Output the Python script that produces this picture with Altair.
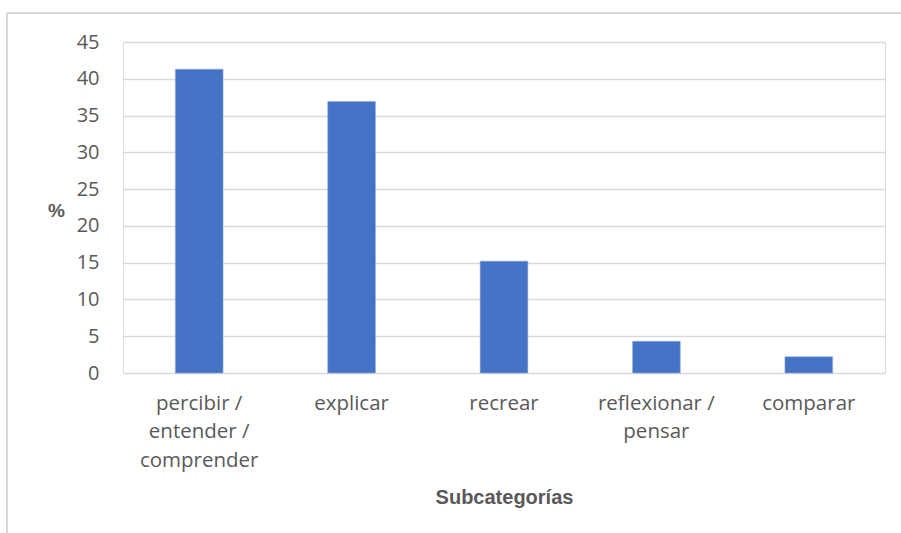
import altair as alt
import pandas as pd

# Share of responses per subcategory (%)
categories = [
    "percibir /\nentender /\ncomprender",
    "explicar",
    "recrear",
    "reflexionar /\npensar",
    "comparar",
]
percent = [41.3, 36.9, 15.2, 4.3, 2.2]
y_ticks = [0, 5, 10, 15, 20, 25, 30, 35, 40, 45]

df = pd.DataFrame({"sub": categories, "pct": percent})

TEXT = "#595959"
GRID = "#D9D9D9"
BAR = "#4472C4"

bars = alt.Chart(df).mark_bar(color=BAR, stroke="#8FAADC", strokeWidth=0.6).encode(
    x=alt.X(
        "sub:N",
        sort=categories,
        scale=alt.Scale(paddingInner=0.687, paddingOuter=0.3435),
        axis=alt.Axis(
            title="Subcategorías",
            titleFont="Liberation Sans",
            titleFontSize=20,
            titleFontWeight="bold",
            titleColor=TEXT,
            titleY=124,
            titleBaseline="middle",
            labelAngle=0,
            labelExpr="split(datum.label, '\\n')",
            labelFont="Open Sans",
            labelFontSize=20.5,
            labelColor=TEXT,
            labelLineHeight=28.5,
            labelPadding=20,
            ticks=False,
            domain=False,
            grid=False,
        ),
    ),
    y=alt.Y(
        "pct:Q",
        scale=alt.Scale(domain=[0, 45], nice=False),
        axis=alt.Axis(
            title="%",
            titleAngle=0,
            titleFont="Liberation Sans",
            titleFontSize=19,
            titleFontWeight="bold",
            titleColor=TEXT,
            titleX=-67,
            titleY=168,
            titleAlign="center",
            titleBaseline="middle",
            values=y_ticks,
            labelFont="Open Sans",
            labelFontSize=20,
            labelColor=TEXT,
            labelPadding=24,
            ticks=False,
            domain=False,
            gridColor=GRID,
            gridWidth=1.3,
        ),
    ),
)

# Light frame around the chart (top and left edges)
frame_top = alt.Chart(df).mark_rule(color=GRID, strokeWidth=1.5).encode(
    x=alt.value(-116), x2=alt.value(900), y=alt.value(-29)
)
frame_left = alt.Chart(df).mark_rule(color=GRID, strokeWidth=1.5).encode(
    x=alt.value(-116), y=alt.value(-29), y2=alt.value(600)
)

chart = (
    alt.layer(bars, frame_top, frame_left)
    .properties(
        width=762,
        height=331,
        autosize=alt.AutoSizeParams(type="none"),
        padding={"left": 123, "top": 42, "right": 16, "bottom": 160},
    )
    .configure_view(stroke=None)
    .configure(background="white")
)

chart.save("out.html", embed_options={"renderer": "svg", "actions": False})
